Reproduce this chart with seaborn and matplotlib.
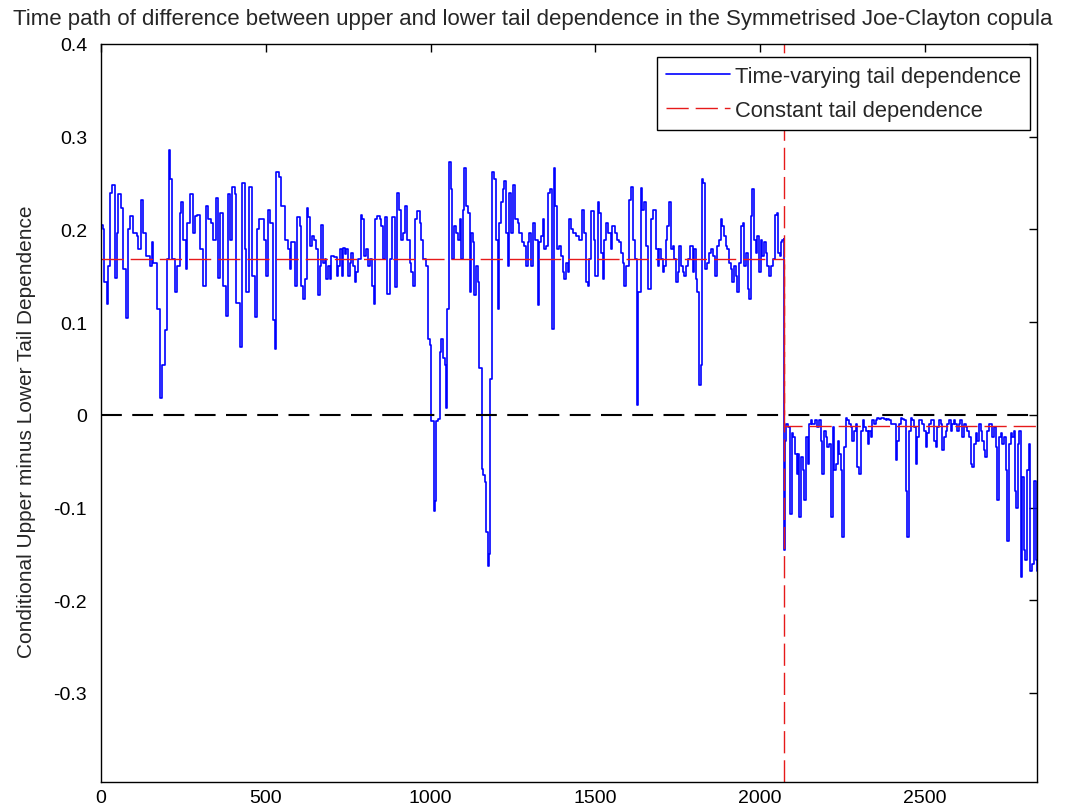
"""
Time path of the difference between upper and lower tail dependence
(Symmetrised Joe-Clayton copula), redrawn with seaborn.
"""

import matplotlib
matplotlib.use("Agg")
import matplotlib.pyplot as plt
import seaborn as sns

# =========================
# Data
# =========================

# Time-varying tail dependence, before the break
t_pre = [
    1, 7, 10, 17, 22, 27, 35, 42, 48, 53,
    60, 68, 76, 83, 88, 98, 108, 113, 123, 128,
    138, 149, 154, 159, 169, 179, 184, 194, 199, 206,
    211, 217, 224, 231, 239, 244, 250, 257, 262, 270,
    278, 285, 292, 300, 310, 318, 325, 335, 340, 348,
    356, 361, 371, 379, 386, 391, 399, 406, 411, 421,
    429, 436, 441, 449, 457, 467, 472, 480, 487, 494,
    500, 507, 514, 522, 527, 532, 540, 547, 558, 568,
    573, 578, 588, 596, 603, 608, 614, 619, 624, 629,
    634, 639, 647, 654, 659, 664, 669, 674, 679, 684,
    689, 694, 699, 707, 715, 720, 725, 730, 735, 740,
    745, 750, 755, 760, 765, 770, 775, 780, 788, 792,
    798, 805, 810, 816, 823, 828, 833, 839, 846, 851,
    856, 861, 869, 876, 883, 891, 897, 903, 909, 917,
    924, 930, 937, 942, 947, 954, 960, 967, 972, 977,
    982, 987, 992, 997, 1002, 1007, 1010, 1015, 1018, 1023,
    1028, 1033, 1038, 1043, 1048, 1051, 1056, 1061, 1065, 1071,
    1078, 1083, 1088, 1093, 1098, 1103, 1108, 1114, 1119, 1124,
    1129, 1133, 1138, 1143, 1148, 1155, 1160, 1164, 1169, 1174,
    1178, 1181, 1187, 1194, 1199, 1204, 1209, 1214, 1219, 1224,
    1229, 1234, 1239, 1244, 1251, 1257, 1264, 1270, 1278, 1285,
    1290, 1295, 1300, 1305, 1312, 1318, 1325, 1330, 1335, 1340,
    1345, 1350, 1358, 1363, 1368, 1374, 1379, 1383, 1389, 1396,
    1401, 1406, 1411, 1416, 1421, 1426, 1433, 1441, 1451, 1459,
    1466, 1472, 1477, 1482, 1488, 1495, 1500, 1507, 1512, 1517,
    1522, 1527, 1534, 1540, 1547, 1552, 1560, 1567, 1573, 1578,
    1583, 1588, 1593, 1601, 1608, 1613, 1621, 1626, 1631, 1638,
    1643, 1648, 1653, 1661, 1668, 1675, 1684, 1689, 1694, 1699,
    1704, 1709, 1714, 1719, 1724, 1729, 1735, 1740, 1745, 1750,
    1755, 1760, 1765, 1770, 1775, 1780, 1788, 1795, 1800, 1805,
    1810, 1816, 1820, 1823, 1828, 1833, 1839, 1846, 1851, 1856,
    1863, 1869, 1876, 1881, 1886, 1891, 1896, 1901, 1906, 1911,
    1916, 1921, 1926, 1931, 1937, 1942, 1947, 1952, 1957, 1962,
    1967, 1972, 1977, 1982, 1987, 1992, 1997, 2002, 2007, 2012,
    2017, 2022, 2027, 2033, 2038, 2045, 2051, 2055, 2060, 2065,
    2068, 2072,
]
v_pre = [
    0.205, 0.200, 0.143, 0.120, 0.161, 0.239, 0.248, 0.148, 0.196, 0.238,
    0.223, 0.157, 0.104, 0.200, 0.214, 0.196, 0.193, 0.179, 0.232, 0.196,
    0.171, 0.161, 0.186, 0.164, 0.114, 0.018, 0.054, 0.091, 0.168, 0.286,
    0.254, 0.168, 0.132, 0.161, 0.218, 0.229, 0.189, 0.157, 0.207, 0.238,
    0.196, 0.214, 0.216, 0.179, 0.139, 0.225, 0.211, 0.207, 0.189, 0.234,
    0.148, 0.218, 0.139, 0.107, 0.238, 0.189, 0.246, 0.238, 0.121, 0.073,
    0.250, 0.179, 0.132, 0.246, 0.150, 0.105, 0.200, 0.211, 0.211, 0.189,
    0.150, 0.221, 0.207, 0.102, 0.071, 0.262, 0.257, 0.225, 0.189, 0.179,
    0.157, 0.186, 0.139, 0.213, 0.204, 0.139, 0.125, 0.146, 0.223, 0.213,
    0.182, 0.193, 0.189, 0.179, 0.129, 0.161, 0.205, 0.164, 0.168, 0.146,
    0.161, 0.146, 0.171, 0.170, 0.150, 0.161, 0.179, 0.150, 0.180, 0.173,
    0.179, 0.150, 0.164, 0.175, 0.161, 0.143, 0.154, 0.168, 0.216, 0.211,
    0.171, 0.179, 0.161, 0.168, 0.139, 0.120, 0.211, 0.214, 0.211, 0.204,
    0.168, 0.213, 0.130, 0.168, 0.213, 0.138, 0.239, 0.221, 0.189, 0.196,
    0.225, 0.189, 0.164, 0.154, 0.139, 0.211, 0.220, 0.207, 0.189, 0.168,
    0.168, 0.161, 0.082, 0.075, -0.007, -0.007, -0.104, -0.093, -0.007, -0.004,
    0.068, 0.082, 0.061, 0.054, 0.007, 0.114, 0.273, 0.243, 0.168, 0.204,
    0.196, 0.189, 0.211, 0.168, 0.221, 0.266, 0.225, 0.218, 0.132, 0.196,
    0.186, 0.129, 0.161, 0.143, 0.050, -0.058, -0.065, -0.072, -0.126, -0.163,
    -0.150, 0.039, 0.262, 0.254, 0.189, 0.114, 0.207, 0.229, 0.243, 0.252,
    0.196, 0.161, 0.239, 0.196, 0.248, 0.211, 0.207, 0.196, 0.186, 0.182,
    0.161, 0.186, 0.196, 0.161, 0.207, 0.189, 0.118, 0.186, 0.193, 0.211,
    0.179, 0.182, 0.239, 0.243, 0.093, 0.266, 0.225, 0.179, 0.182, 0.171,
    0.154, 0.146, 0.164, 0.154, 0.211, 0.200, 0.196, 0.193, 0.189, 0.221,
    0.196, 0.143, 0.139, 0.168, 0.220, 0.189, 0.150, 0.229, 0.218, 0.175,
    0.146, 0.189, 0.207, 0.196, 0.179, 0.204, 0.196, 0.189, 0.186, 0.175,
    0.164, 0.139, 0.161, 0.232, 0.246, 0.189, 0.168, 0.011, 0.132, 0.245,
    0.221, 0.229, 0.182, 0.136, 0.211, 0.221, 0.179, 0.161, 0.179, 0.168,
    0.154, 0.161, 0.189, 0.204, 0.229, 0.179, 0.182, 0.168, 0.143, 0.154,
    0.182, 0.161, 0.154, 0.150, 0.161, 0.168, 0.182, 0.154, 0.179, 0.146,
    0.132, 0.032, 0.054, 0.254, 0.250, 0.157, 0.164, 0.175, 0.179, 0.171,
    0.150, 0.182, 0.189, 0.211, 0.204, 0.193, 0.182, 0.179, 0.164, 0.157,
    0.143, 0.161, 0.150, 0.132, 0.164, 0.204, 0.207, 0.161, 0.175, 0.136,
    0.125, 0.214, 0.243, 0.189, 0.175, 0.193, 0.154, 0.189, 0.171, 0.186,
    0.175, 0.161, 0.150, 0.161, 0.168, 0.216, 0.218, 0.175, 0.171, 0.186,
    0.189, 0.190,
]

# Time-varying tail dependence, after the break
t_post = [
    2073, 2076, 2080, 2086, 2090, 2096, 2100, 2105, 2111, 2116,
    2119, 2124, 2129, 2134, 2139, 2144, 2149, 2154, 2159, 2167,
    2174, 2179, 2184, 2189, 2194, 2199, 2204, 2210, 2215, 2220,
    2225, 2230, 2235, 2240, 2245, 2250, 2255, 2260, 2265, 2270,
    2275, 2280, 2285, 2290, 2295, 2300, 2305, 2311, 2316, 2321,
    2326, 2331, 2336, 2341, 2346, 2351, 2356, 2361, 2366, 2371,
    2376, 2381, 2386, 2391, 2396, 2406, 2412, 2417, 2422, 2427,
    2432, 2437, 2442, 2447, 2452, 2457, 2462, 2467, 2472, 2477,
    2482, 2487, 2492, 2497, 2502, 2507, 2513, 2518, 2523, 2528,
    2533, 2538, 2543, 2548, 2553, 2558, 2563, 2568, 2573, 2578,
    2583, 2588, 2593, 2598, 2603, 2608, 2614, 2619, 2624, 2629,
    2634, 2639, 2644, 2649, 2654, 2659, 2664, 2669, 2674, 2679,
    2684, 2689, 2694, 2699, 2704, 2709, 2715, 2720, 2725, 2730,
    2735, 2740, 2745, 2750, 2755, 2760, 2765, 2770, 2775, 2778,
    2783, 2787, 2791, 2795, 2800, 2805, 2810, 2815, 2820, 2826,
    2831, 2836, 2840,
]
v_post = [
    -0.146, -0.028, -0.010, -0.013, -0.107, -0.020, -0.024, -0.042, -0.064, -0.042,
    -0.110, -0.046, -0.060, -0.092, -0.024, -0.053, -0.010, -0.006, -0.010, -0.006,
    -0.013, -0.006, -0.028, -0.064, -0.017, -0.024, -0.035, -0.031, -0.110, -0.013,
    -0.060, -0.053, -0.028, -0.042, -0.060, -0.132, -0.035, -0.003, -0.006, -0.010,
    -0.013, -0.028, -0.017, -0.010, -0.056, -0.064, -0.017, -0.006, -0.013, -0.017,
    -0.031, -0.017, -0.024, -0.006, -0.010, -0.006, -0.003, -0.004, -0.003, -0.003,
    -0.004, -0.006, -0.004, -0.006, -0.010, -0.010, -0.049, -0.028, -0.010, -0.003,
    -0.004, -0.006, -0.082, -0.132, -0.017, -0.003, -0.006, -0.013, -0.053, -0.024,
    -0.006, -0.006, -0.010, -0.017, -0.035, -0.020, -0.010, -0.006, -0.006, -0.028,
    -0.035, -0.013, -0.006, -0.010, -0.038, -0.024, -0.017, -0.010, -0.006, -0.017,
    -0.010, -0.006, -0.010, -0.017, -0.010, -0.006, -0.024, -0.010, -0.013, -0.017,
    -0.024, -0.053, -0.056, -0.031, -0.020, -0.028, -0.010, -0.017, -0.028, -0.038,
    -0.046, -0.017, -0.010, -0.010, -0.024, -0.013, -0.035, -0.092, -0.024, -0.020,
    -0.031, -0.024, -0.060, -0.136, -0.031, -0.020, -0.024, -0.017, -0.082, -0.100,
    -0.031, -0.017, -0.175, -0.067, -0.146, -0.157, -0.060, -0.031, -0.168, -0.161,
    -0.071, -0.157, -0.168,
]

# Constant tail dependence (one level per regime) and break date
const_levels = [0.168, -0.012]
break_t = 2073
t_start, t_end = 1, 2840

x_ticks = [0, 500, 1000, 1500, 2000, 2500]
y_ticks = [-0.3, -0.2, -0.1, 0, 0.1, 0.2, 0.3, 0.4]

titulo = ("Time path of difference between upper and lower tail dependence "
          "in the Symmetrised Joe-Clayton copula")
ylabel = "Conditional Upper minus Lower Tail Dependence"

# =========================
# Figure
# =========================

sns.set_style("white")
plt.rcParams["font.family"] = ["Liberation Sans", "DejaVu Sans"]

fig = plt.figure(figsize=(10.66, 8.12), dpi=100)
ax = fig.add_axes([0.0947, 0.0357, 0.878, 0.909])

rojo = (0.9, 0.1, 0.1)

# --- serie variable en el tiempo ---
sns.lineplot(x=t_pre + t_post, y=v_pre + v_post, ax=ax, color=(0, 0, 1),
             lw=1.2, drawstyle="steps-post", estimator=None, sort=False,
             label="Time-varying tail dependence")

# --- nivel constante por regimen ---
sns.lineplot(x=[t_start, break_t, break_t, t_end],
             y=[const_levels[0], const_levels[0], const_levels[1], const_levels[1]],
             ax=ax, color=rojo, lw=1.0, dashes=(16, 5),
             estimator=None, sort=False, label="Constant tail dependence")

# --- lineas de referencia ---
ax.axvline(break_t, color=rojo, lw=1.0, dashes=(16, 5))
ax.axhline(0, color="black", lw=1.5, dashes=(10, 5), zorder=3)

ax.set_xlim(0, t_end)
ax.set_ylim(-0.396, 0.4)
ax.set_xticks(x_ticks)
ax.set_yticks(y_ticks)
ax.set_yticklabels(["-0.3", "-0.2", "-0.1", "0", "0.1", "0.2", "0.3", "0.4"])
ax.tick_params(direction="in", length=6, width=1, top=True, right=True,
               labelsize=14, colors="black")
ax.tick_params(axis="y", pad=10)
ax.tick_params(axis="x", pad=5)
for s in ax.spines.values():
    s.set_color("black")
    s.set_linewidth(1.0)

ax.set_xlabel("")
ax.set_ylabel(ylabel, fontsize=15)
ax.yaxis.set_label_coords(-0.0694, 0.476)

fig.text(0.5, 1 - 19 / 812, titulo, ha="center", va="center", fontsize=16)

leg = ax.legend(loc="upper right", bbox_to_anchor=(0.9925, 0.982),
                borderaxespad=0, fontsize=15.75, handlelength=2.9,
                handletextpad=0.25, labelspacing=0.6, borderpad=0.4,
                fancybox=False, framealpha=1, edgecolor="black")
leg.get_frame().set_linewidth(1.0)

fig.savefig("out.png", dpi=100)
